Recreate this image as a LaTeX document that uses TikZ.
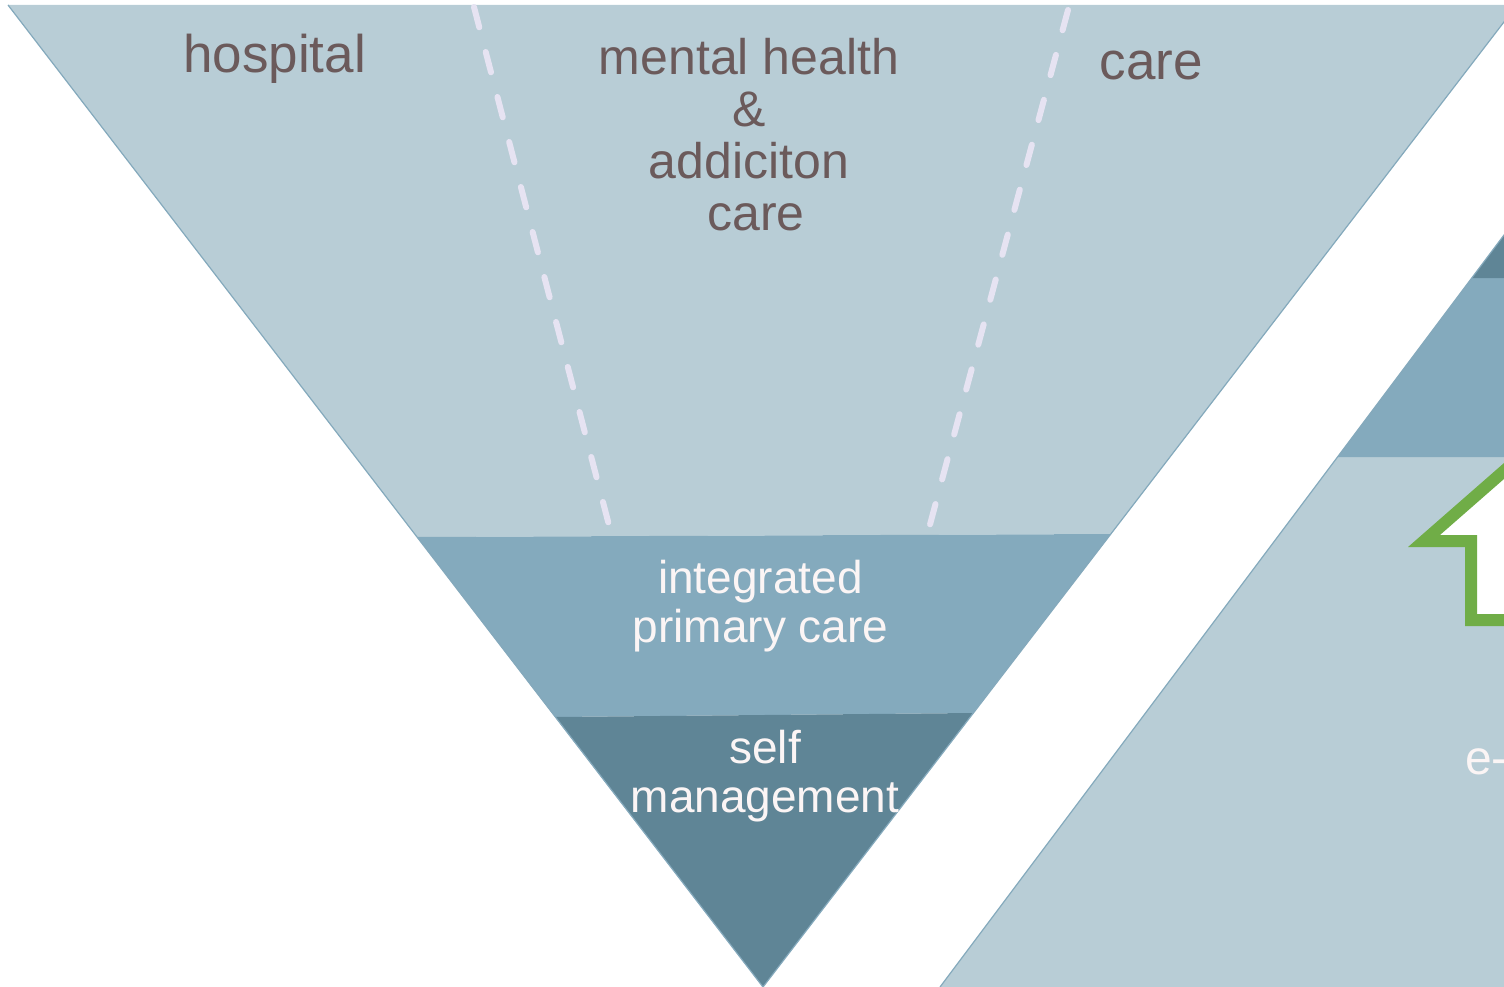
\documentclass[tikz,border=0pt]{standalone}
\usepackage{fontspec}
\setmainfont{Liberation Sans}
\definecolor{bandlight}{HTML}{B8CDD6}
\definecolor{bandmid}{HTML}{84AABD}
\definecolor{banddark}{HTML}{5F8596}
\definecolor{edgeblue}{HTML}{84A9BC}
\definecolor{dashlav}{HTML}{E6E3F2}
\definecolor{txtdark}{HTML}{6B5A5B}
\definecolor{txtlight}{HTML}{FBF5F5}
\definecolor{arrowgreen}{HTML}{70AD47}
\tikzset{
  darklabel/.style={text=txtdark, inner sep=0pt, anchor=base, align=center},
  lightlabel/.style={text=txtlight, inner sep=0pt, anchor=base, align=center},
  divider/.style={draw=dashlav, line width=6pt, line cap=round, dash pattern=on 21pt off 25.5pt},
  pyredge/.style={draw=edgeblue, line width=1.2pt},
}
\begin{document}
\begin{tikzpicture}[x=1pt,y=-1pt]
\useasboundingbox (0,0) rectangle (1504,987);
\clip (0,0) rectangle (1504,987);
% left inverted pyramid
\coordinate (TL) at (8,5);
\coordinate (TR) at (1517,5);
\coordinate (AP) at (763,987);
\coordinate (B1L) at (417,537);
\coordinate (B1R) at (1111,534);
\coordinate (B2L) at (555,717);
\coordinate (B2R) at (973,713);
\fill[bandlight] (TL) -- (TR) -- (B1R) -- (B1L) -- cycle;
\fill[bandmid] (B1L) -- (B1R) -- (B2R) -- (B2L) -- cycle;
\fill[banddark] (B2L) -- (B2R) -- (AP) -- cycle;
\draw[pyredge] (TL) -- (AP) -- (TR);
% right pyramid
\coordinate (RB) at (940,987);
\coordinate (R1) at (1337.5,457);
\coordinate (R2) at (1471.75,278);
\coordinate (RT) at (1605.25,100);
\fill[bandlight] (RB) -- (R1) -- (1700,457) -- (1700,987) -- cycle;
\fill[bandmid] (R1) -- (R2) -- (1700,278) -- (1700,457) -- cycle;
\fill[banddark] (R2) -- (RT) -- (1700,100) -- (1700,278) -- cycle;
\draw[pyredge] (RB) -- (RT);
% dashed dividers
\coordinate (D1a) at (474,7);
\coordinate (D1b) at (610,529);
\coordinate (D2a) at (1068,10);
\coordinate (D2b) at (928,532);
\draw[divider] (D1a) -- (D1b);
\draw[divider] (D2a) -- (D2b);
% green arrow outline
\coordinate (ATip) at (1424,541);
\coordinate (AHead) at (1471,541);
\coordinate (AShaft) at (1471,620);
\coordinate (AEnd) at (1560,620);
\coordinate (ATop) at (1560,422);
\fill[white] (ATop) -- (ATip) -- (AHead) -- (AShaft) -- (AEnd) -- cycle;
\draw[arrowgreen, line width=12pt, line join=miter] (ATop) -- (ATip) -- (AHead) -- (AShaft) -- (AEnd);
% labels (base anchor = baseline of last line)
\node[darklabel, font=\fontsize{53}{60}\selectfont] (hosp) at (274.5,73) {hospital};
\node[darklabel, font=\fontsize{50}{51.7}\selectfont] (mh) at (749,230) {mental health\\\&\\addiciton\\\hspace*{0.28em}care};
\node[darklabel, font=\fontsize{53}{60}\selectfont] (care) at (1151.5,80) {care};
\node[lightlabel, font=\fontsize{46}{49}\selectfont] (ipc) at (760.5,642) {integrated\\primary care};
\node[lightlabel, font=\fontsize{46}{49}\selectfont] (selfm) at (765,812) {self\\management};
\node[text=txtlight, inner sep=0pt, anchor=base west, font=\fontsize{48}{52}\selectfont] (eh) at (1465,774) {e-};
\end{tikzpicture}
\end{document}
